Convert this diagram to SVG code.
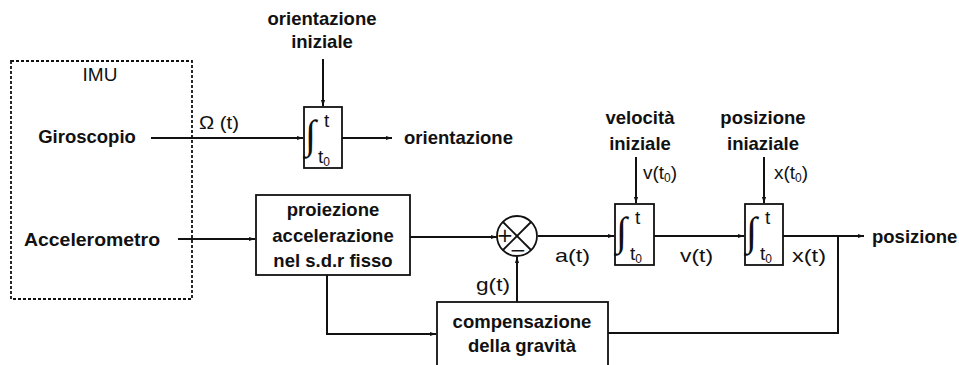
<svg xmlns="http://www.w3.org/2000/svg" width="959" height="365" viewBox="0 0 959 365">
  <style>
    .lbl { font-family: "Liberation Sans", Arial, sans-serif; font-size: 18.5px; font-weight: bold; fill: #111; }
    .sig { font-family: "Liberation Sans", Arial, sans-serif; font-size: 19px; fill: #111; }
    .sub { font-size: 12px; }
    .int { font-family: "Liberation Serif", serif; font-size: 40px; fill: #111; }
    .sign { font-family: "DejaVu Sans", sans-serif; font-size: 20px; fill: #111; }
    .box { fill: #fff; stroke: #111; stroke-width: 1.8; }
    .wire { fill: none; stroke: #111; stroke-width: 2; }
  </style>
  <defs>
    <marker id="arrow" viewBox="0 0 10 10" refX="10" refY="5" markerWidth="6" markerHeight="6" orient="auto" markerUnits="userSpaceOnUse">
      <path d="M0,1.5 L10,5 L0,8.5 Z" fill="#111"/>
    </marker>
  </defs>

  <!-- connectors -->
  <g id="connectors">
    <line class="wire" x1="151" y1="138" x2="303" y2="138" marker-end="url(#arrow)"/>
    <line class="wire" x1="323" y1="59" x2="323" y2="106" marker-end="url(#arrow)"/>
    <line class="wire" x1="342" y1="138" x2="392" y2="138" marker-end="url(#arrow)"/>
    <line class="wire" x1="178" y1="239" x2="255" y2="239" marker-end="url(#arrow)"/>
    <line class="wire" x1="410" y1="237" x2="497" y2="237" marker-end="url(#arrow)"/>
    <polyline class="wire" points="327,275 327,334 436,334" marker-end="url(#arrow)"/>
    <line class="wire" x1="517" y1="302" x2="517" y2="257" marker-end="url(#arrow)"/>
    <line class="wire" x1="538" y1="236" x2="614" y2="236" marker-end="url(#arrow)"/>
    <line class="wire" x1="636" y1="157" x2="636" y2="203" marker-end="url(#arrow)"/>
    <line class="wire" x1="654" y1="236" x2="744" y2="236" marker-end="url(#arrow)"/>
    <line class="wire" x1="764" y1="157" x2="764" y2="203" marker-end="url(#arrow)"/>
    <line class="wire" x1="783" y1="236" x2="864" y2="236" marker-end="url(#arrow)"/>
    <polyline class="wire" points="608,333 838,333 838,236"/>
  </g>

  <!-- IMU enclosure -->
  <g id="imu">
    <rect x="11" y="61" width="181" height="238" fill="none" stroke="#111" stroke-width="1.8" stroke-dasharray="3,2"/>
    <text class="sig" x="100" y="81" text-anchor="middle">IMU</text>
    <text class="lbl" x="87" y="143" text-anchor="middle">Giroscopio</text>
    <text class="lbl" x="92" y="246" text-anchor="middle" textLength="136" lengthAdjust="spacingAndGlyphs">Accelerometro</text>
  </g>

  <!-- orientation integrator -->
  <g id="int-orient">
    <text class="lbl" x="322" y="25" text-anchor="middle">orientazione</text>
    <text class="lbl" x="322" y="48" text-anchor="middle">iniziale</text>
    <rect class="box" x="304" y="107" width="38" height="61"/>
    <text class="int" x="305" y="148">∫</text>
    <text class="sig" x="324" y="127">t</text>
    <text class="sig" x="318" y="163">t<tspan class="sub" dy="3">0</tspan></text>
    <text class="sig" x="199" y="129" textLength="40" lengthAdjust="spacingAndGlyphs">Ω (t)</text>
    <text class="lbl" x="404" y="144">orientazione</text>
  </g>

  <!-- projection block -->
  <g id="proiezione">
    <rect class="box" x="256" y="195" width="154" height="80"/>
    <text class="lbl" x="333" y="216" text-anchor="middle">proiezione</text>
    <text class="lbl" x="333" y="242" text-anchor="middle">accelerazione</text>
    <text class="lbl" x="333" y="267" text-anchor="middle">nel s.d.r fisso</text>
  </g>

  <!-- summing junction -->
  <g id="somma">
    <circle cx="517" cy="236" r="20" fill="#fff" stroke="#111" stroke-width="1.8"/>
    <line x1="503" y1="222" x2="531" y2="250" stroke="#111" stroke-width="1.8"/>
    <line x1="531" y1="222" x2="503" y2="250" stroke="#111" stroke-width="1.8"/>
    <text class="sign" x="505" y="242" text-anchor="middle">+</text>
    <text class="sign" x="518" y="257" text-anchor="middle">−</text>
    <text class="sig" x="476" y="291" textLength="34" lengthAdjust="spacingAndGlyphs">g(t)</text>
    <text class="sig" x="555" y="262" textLength="35" lengthAdjust="spacingAndGlyphs">a(t)</text>
  </g>

  <!-- gravity compensation -->
  <g id="compensazione">
    <rect class="box" x="437" y="302" width="171" height="70"/>
    <text class="lbl" x="522" y="328" text-anchor="middle">compensazione</text>
    <text class="lbl" x="522" y="352" text-anchor="middle">della gravità</text>
  </g>

  <!-- velocity integrator -->
  <g id="int-vel">
    <text class="lbl" x="640" y="124" text-anchor="middle">velocità</text>
    <text class="lbl" x="640" y="150" text-anchor="middle">iniziale</text>
    <text class="sig" x="643" y="179">v(t<tspan class="sub" dy="3">0</tspan><tspan dy="-3">)</tspan></text>
    <rect class="box" x="615" y="204" width="39" height="61"/>
    <text class="int" x="616" y="245">∫</text>
    <text class="sig" x="635" y="224">t</text>
    <text class="sig" x="630" y="260">t<tspan class="sub" dy="3">0</tspan></text>
    <text class="sig" x="680" y="262" textLength="33" lengthAdjust="spacingAndGlyphs">v(t)</text>
  </g>

  <!-- position integrator -->
  <g id="int-pos">
    <text class="lbl" x="763" y="124" text-anchor="middle">posizione</text>
    <text class="lbl" x="763" y="150" text-anchor="middle">iniaziale</text>
    <text class="sig" x="774" y="179">x(t<tspan class="sub" dy="3">0</tspan><tspan dy="-3">)</tspan></text>
    <rect class="box" x="745" y="204" width="38" height="61"/>
    <text class="int" x="746" y="245">∫</text>
    <text class="sig" x="765" y="224">t</text>
    <text class="sig" x="760" y="260">t<tspan class="sub" dy="3">0</tspan></text>
    <text class="sig" x="792" y="262" textLength="34" lengthAdjust="spacingAndGlyphs">x(t)</text>
    <text class="lbl" x="872" y="243">posizione</text>
  </g>
</svg>
